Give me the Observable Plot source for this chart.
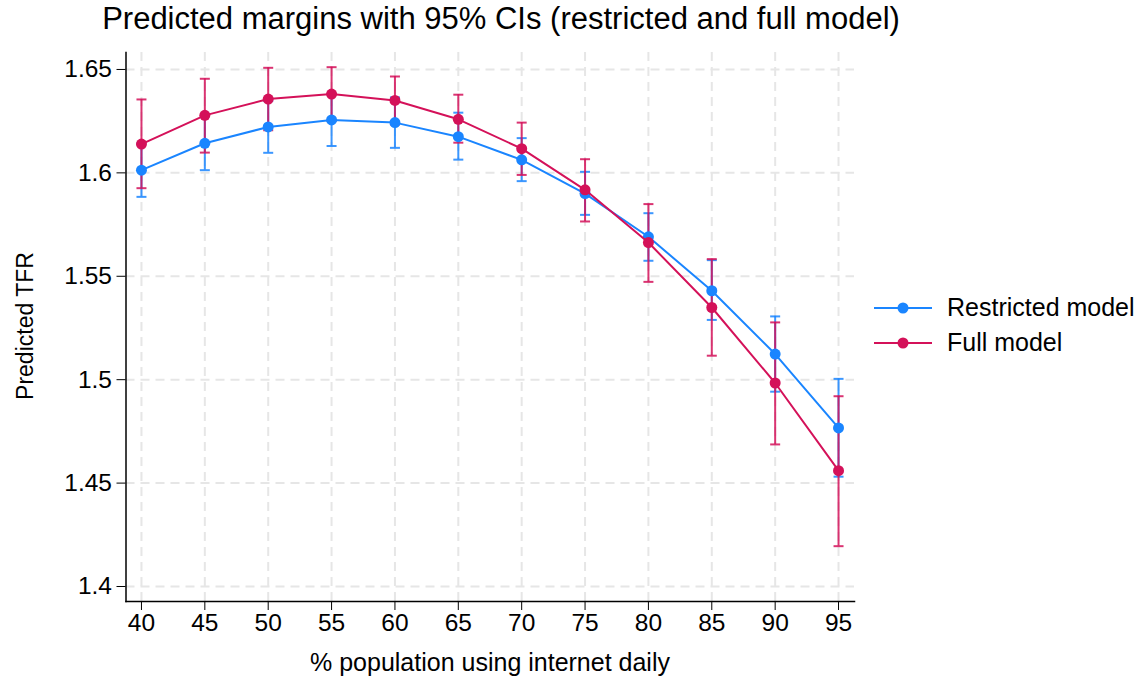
<!DOCTYPE html>
<html>
<head>
<meta charset="utf-8">
<script src="https://cdn.jsdelivr.net/npm/d3@7"></script>
<script src="https://cdn.jsdelivr.net/npm/@observablehq/plot@0.6"></script>
<style>
  html, body { margin: 0; padding: 0; background: #fff; }
  #wrap { position: relative; width: 1145px; height: 681px; font-family: "Liberation Sans", Arial, sans-serif; color: #000; overflow: hidden; }
  #title { position: absolute; left: 0; width: 1002px; top: 1px; text-align: center; font-size: 31px; white-space: nowrap; }
  #ytitle { position: absolute; left: 25px; top: 326px; transform: translate(-50%, -50%) rotate(-90deg); font-size: 23px; white-space: nowrap; }
  #xtitle { position: absolute; left: 490px; top: 648px; transform: translateX(-50%); font-size: 25px; white-space: nowrap; }
  #legend { position: absolute; left: 874px; top: 290px; font-size: 25px; }
  .item { display: flex; align-items: center; height: 35px; }
  .item svg { margin-right: 15px; }
  #chart { position: absolute; left: 0; top: 0; }
</style>
</head>
<body>
<div id="wrap">
  <div id="chart"></div>
  <div id="title">Predicted margins with 95% CIs (restricted and full model)</div>
  <div id="ytitle">Predicted TFR</div>
  <div id="xtitle">% population using internet daily</div>
  <div id="legend"></div>
</div>
<script>
const internet = [40, 45, 50, 55, 60, 65, 70, 75, 80, 85, 90, 95];
const restrictedMargin = [1.6013, 1.6143, 1.6222, 1.6256, 1.6243, 1.6175, 1.6063, 1.5900, 1.5691, 1.5430, 1.5124, 1.4767];
const restrictedLo     = [1.5884, 1.6013, 1.6097, 1.6130, 1.6121, 1.6064, 1.5960, 1.5797, 1.5575, 1.5289, 1.4942, 1.4531];
const restrictedHi     = [1.6142, 1.6273, 1.6347, 1.6382, 1.6365, 1.6291, 1.6168, 1.6005, 1.5805, 1.5578, 1.5306, 1.5004];
const fullMargin = [1.6139, 1.6278, 1.6357, 1.6381, 1.6350, 1.6259, 1.6117, 1.5918, 1.5663, 1.5349, 1.4984, 1.4560];
const fullLo     = [1.5926, 1.6098, 1.6206, 1.6251, 1.6234, 1.6146, 1.5990, 1.5765, 1.5473, 1.5116, 1.4687, 1.4195];
const fullHi     = [1.6355, 1.6455, 1.6508, 1.6511, 1.6466, 1.6378, 1.6243, 1.6066, 1.5849, 1.5583, 1.5277, 1.4920];
const seriesNames = ["Restricted model", "Full model"];
const seriesColors = ["#1a85ff", "#d41159"];
const yTicks = [1.4, 1.45, 1.5, 1.55, 1.6, 1.65];
const xTicks = internet;

const rows = [];
internet.forEach((x, i) => {
  rows.push({x, series: seriesNames[0], m: restrictedMargin[i], lo: restrictedLo[i], hi: restrictedHi[i]});
});
internet.forEach((x, i) => {
  rows.push({x, series: seriesNames[1], m: fullMargin[i], lo: fullLo[i], hi: fullHi[i]});
});
const bySeries = s => rows.filter(r => r.series === s);

const capSymbol = {
  draw(context, size) {
    const w = Math.sqrt(size / Math.PI);
    context.moveTo(-w, 0);
    context.lineTo(w, 0);
  }
};

const grid = {stroke: "#e6e6e6", strokeOpacity: 1, strokeWidth: 2, strokeDasharray: "9,6"};
const color = {domain: seriesNames, range: seriesColors};

const marks = [
  Plot.gridY(yTicks, grid),
  Plot.gridX(xTicks, grid),
];
seriesNames.forEach(s => {
  const d = bySeries(s);
  marks.push(Plot.ruleX(d, {x: "x", y1: "lo", y2: "hi", stroke: "series", strokeWidth: 2, strokeOpacity: 0.85}));
  marks.push(Plot.dot(d, {x: "x", y: "lo", symbol: capSymbol, r: 5, stroke: "series", strokeWidth: 2, strokeOpacity: 0.85, fill: "none"}));
  marks.push(Plot.dot(d, {x: "x", y: "hi", symbol: capSymbol, r: 5, stroke: "series", strokeWidth: 2, strokeOpacity: 0.85, fill: "none"}));
});
seriesNames.forEach(s => {
  const d = bySeries(s);
  marks.push(Plot.line(d, {x: "x", y: "m", stroke: "series", strokeWidth: 2}));
  marks.push(Plot.dot(d, {x: "x", y: "m", fill: "series", r: 5.5, stroke: "none"}));
});
marks.push(
  Plot.frame({anchor: "left", stroke: "#000", strokeWidth: 1.5}),
  Plot.frame({anchor: "bottom", stroke: "#000", strokeWidth: 1.5}),
  Plot.axisY(yTicks, {tickSize: 9, tickPadding: 5, tickFormat: d => String(d), fontSize: 24.5, label: null, stroke: "#000"}),
  Plot.axisX(xTicks, {tickSize: 9, tickPadding: 3, tickFormat: d => String(d), fontSize: 24.5, label: null, stroke: "#000"})
);

const chart = Plot.plot({
  width: 1145,
  height: 681,
  marginTop: 52,
  marginBottom: 80,
  marginLeft: 125.5,
  marginRight: 291,
  style: {fontFamily: "'Liberation Sans', Arial, sans-serif", color: "#000", background: "#fff"},
  x: {domain: [38.78, 96.26]},
  y: {domain: [1.39275, 1.6582]},
  color,
  marks
});
document.getElementById("chart").appendChild(chart);

const legend = document.getElementById("legend");
seriesNames.forEach((s, i) => {
  const item = document.createElement("div");
  item.className = "item";
  const sw = d3.create("svg").attr("width", 58).attr("height", 14);
  sw.append("line").attr("x1", 0).attr("x2", 58).attr("y1", 7).attr("y2", 7).attr("stroke", seriesColors[i]).attr("stroke-width", 2);
  sw.append("circle").attr("cx", 29).attr("cy", 7).attr("r", 5.5).attr("fill", seriesColors[i]);
  item.appendChild(sw.node());
  const t = document.createElement("span");
  t.textContent = s;
  item.appendChild(t);
  legend.appendChild(item);
});
</script>
</body>
</html>
